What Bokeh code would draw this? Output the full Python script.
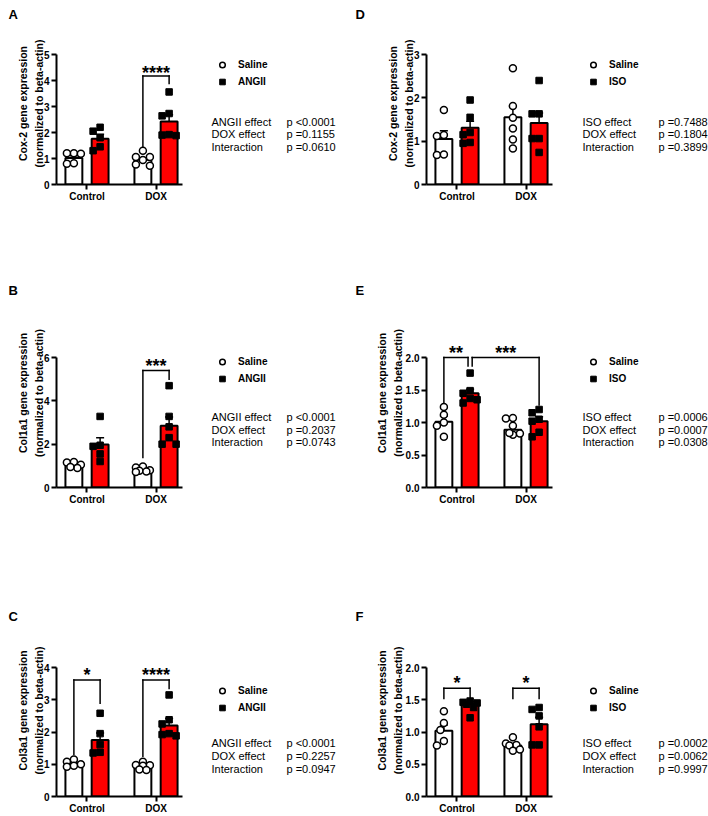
from bokeh.plotting import figure
from bokeh.models import (Range1d, FixedTicker, ColumnDataSource, Whisker, TeeHead,
                          Label, Legend, LegendItem, Arrow)
from bokeh.layouts import column, row
from bokeh.embed import file_html
from bokeh.resources import INLINE

# ---------------- data ----------------
groups = ["Control", "DOX"]
saline_name = "Saline"
stat_names_angii = ["ANGII effect", "DOX effect", "Interaction"]
stat_names_iso = ["ISO effect", "DOX effect", "Interaction"]

# Panel A: Cox-2, ANGII
a_ylabel = "Cox-2 gene expression\n(normalized to beta-actin)"
a_treat = "ANGII"
a_yticks = [0, 1, 2, 3, 4, 5]
a_yticklabels = ["0", "1", "2", "3", "4", "5"]
a_sal_ctrl = [1.20, 1.18, 1.20, 0.82, 0.80]
a_sal_dox = [1.30, 1.06, 1.06, 0.94, 0.72, 0.77]
a_trt_ctrl = [2.20, 2.05, 1.80, 1.30, 1.45]
a_trt_dox = [3.56, 2.73, 2.64, 1.92, 1.90, 1.88]
a_sal_mean = [1.02, 0.95]
a_sal_sem = [0.09, 0.08]
a_trt_mean = [1.76, 2.42]
a_trt_sem = [0.17, 0.26]
a_pvals = ["p <0.0001", "p =0.1155", "p =0.0610"]
a_brackets = [(1, 0, 1, 1, 4.17, 1.45, 3.88, "****", 4.46, 0, 0)]

# Panel B: Col1a1, ANGII
b_ylabel = "Col1a1 gene expression\n(normalized to beta-actin)"
b_treat = "ANGII"
b_yticks = [0, 2, 4, 6]
b_yticklabels = ["0", "2", "4", "6"]
b_sal_ctrl = [1.15, 1.18, 1.05, 0.90, 0.95]
b_sal_dox = [0.97, 0.92, 0.80, 0.77, 0.74, 0.72]
b_trt_ctrl = [3.28, 1.95, 1.90, 1.55, 1.20]
b_trt_dox = [4.70, 3.28, 2.80, 2.30, 2.00, 2.00]
b_sal_mean = [1.05, 0.82]
b_sal_sem = [0.05, 0.04]
b_trt_mean = [1.98, 2.85]
b_trt_sem = [0.32, 0.40]
b_pvals = ["p <0.0001", "p =0.2037", "p =0.0743"]
b_brackets = [(1, 0, 1, 1, 5.4, 1.38, 5.0, "***", 5.8, 0, 0)]

# Panel C: Col3a1, ANGII
c_ylabel = "Col3a1 gene expression\n(normalized to beta-actin)"
c_treat = "ANGII"
c_yticks = [0, 1, 2, 3, 4]
c_yticklabels = ["0", "1", "2", "3", "4"]
c_sal_ctrl = [1.15, 1.08, 1.00, 0.95, 0.92]
c_sal_dox = [1.08, 0.97, 0.98, 0.95, 0.84, 0.82]
c_trt_ctrl = [2.58, 1.95, 1.61, 1.35, 1.37]
c_trt_dox = [3.15, 2.38, 2.25, 1.95, 1.92, 1.88]
c_sal_mean = [1.02, 0.94]
c_sal_sem = [0.04, 0.04]
c_trt_mean = [1.75, 2.20]
c_trt_sem = [0.22, 0.22]
c_pvals = ["p <0.0001", "p =0.2257", "p =0.0947"]
c_brackets = [(0, 0, 0, 1, 3.61, 1.30, 2.89, "*", 3.89, 0, 0),
              (1, 0, 1, 1, 3.61, 1.25, 3.35, "****", 3.89, 0, 0)]

# Panel D: Cox-2, ISO
d_ylabel = "Cox-2 gene expression\n(normalized to beta-actin)"
d_treat = "ISO"
d_yticks = [0, 1, 2, 3]
d_yticklabels = ["0", "1", "2", "3"]
d_sal_ctrl = [1.72, 1.12, 1.14, 0.68, 0.69]
d_sal_dox = [2.68, 1.81, 1.54, 1.29, 1.04, 0.83]
d_trt_ctrl = [1.95, 1.55, 1.20, 1.15, 0.95, 0.97]
d_trt_dox = [2.40, 1.63, 1.63, 1.06, 1.06, 0.74]
d_sal_mean = [1.05, 1.55]
d_sal_sem = [0.19, 0.26]
d_trt_mean = [1.31, 1.42]
d_trt_sem = [0.15, 0.23]
d_pvals = ["p =0.7488", "p =0.1804", "p =0.3899"]
d_brackets = []

# Panel E: Col1a1, ISO
e_ylabel = "Col1a1 gene expression\n(normalized to beta-actin)"
e_treat = "ISO"
e_yticks = [0, 0.5, 1, 1.5, 2]
e_yticklabels = ["0.0", "0.5", "1.0", "1.5", "2.0"]
e_sal_ctrl = [1.24, 1.12, 1.00, 0.95, 0.78]
e_sal_dox = [1.06, 1.07, 0.95, 0.83, 0.81, 0.84]
e_trt_ctrl = [1.76, 1.49, 1.45, 1.37, 1.30, 1.35]
e_trt_dox = [1.20, 1.15, 1.05, 1.02, 0.78, 0.85]
e_sal_mean = [1.01, 0.89]
e_sal_sem = [0.09, 0.05]
e_trt_mean = [1.45, 1.02]
e_trt_sem = [0.06, 0.07]
e_pvals = ["p =0.0006", "p =0.0007", "p =0.0308"]
e_brackets = [(0, 0, 0, 1, 2.0, 1.31, 1.87, "**", 2.13, 0, -0.03),
              (0, 1, 1, 1, 2.0, 1.87, 1.27, "***", 2.13, 0.03, 0)]

# Panel F: Col3a1, ISO
f_ylabel = "Col3a1 gene expression\n(normalized to beta-actin)"
f_treat = "ISO"
f_yticks = [0, 0.5, 1, 1.5, 2]
f_yticklabels = ["0.0", "0.5", "1.0", "1.5", "2.0"]
f_sal_ctrl = [1.32, 1.14, 1.03, 0.79, 0.86]
f_sal_dox = [0.92, 0.82, 0.80, 0.79, 0.71, 0.73]
f_trt_ctrl = [1.48, 1.46, 1.45, 1.43, 1.38, 1.22]
f_trt_dox = [1.38, 1.35, 1.25, 1.08, 0.80, 0.80]
f_sal_mean = [1.02, 0.79]
f_sal_sem = [0.09, 0.03]
f_trt_mean = [1.43, 1.12]
f_trt_sem = [0.04, 0.11]
f_pvals = ["p =0.0002", "p =0.0062", "p =0.9997"]
f_brackets = [(0, 0, 0, 1, 1.68, 1.52, 1.52, "*", 1.82, 0, 0),
              (1, 0, 1, 1, 1.68, 1.52, 1.52, "*", 1.82, 0, 0)]

# ---------------- layout / style ----------------
FONT = "Liberation Sans"
RED = "#FF0000"
X0, X1 = 0.558, 2.384
OFF = 0.19
BW = 0.245
STAR_FS = 18

COL_OX = [0, 354]
COL_W = 354
COL_FL = [56, 426]
COL_FR = [182, 552]
ROW_OY = [0, 248, 528]
ROW_H = [248, 280, 288]
ROW_FTX = [22, 298, 624]
ROW_FT = [54, 357, 667]
ROW_FB = [184, 487, 796]

LETTER_X = [8, 355]
LEG_MARK_X = [222, 593]
STAT_NAME_X = [211, 582]
STAT_P_X = [286, 658]
LEG_Y = [64, 361, 690]
STAT_Y = [(121, 133.5, 146), (416, 429, 441), (742, 755, 768)]


def swarm(vals, kx, ky, d=7.5, step=3.5, maxoff=9):
    cands = [0.0]
    k = 1
    while k * step <= maxoff:
        cands += [-k * step, k * step]
        k += 1
    order = sorted(range(len(vals)), key=lambda i: -vals[i])
    placed = []
    res = [0.0] * len(vals)
    for i in order:
        yv = vals[i] * ky
        best, bestd = 0.0, -1
        for c in cands:
            md = min([((c - px) ** 2 + (yv - py) ** 2) ** 0.5 for px, py in placed], default=1e9)
            if md >= d:
                best = c
                break
            if md > bestd:
                bestd, best = md, c
        placed.append((best, yv))
        res[i] = best / kx
    return res


def tick_key(t):
    return int(t) if float(t).is_integer() else t


def style_axis(ax):
    ax.axis_line_width = 2
    ax.axis_line_color = "black"
    ax.major_tick_line_width = 2
    ax.major_tick_line_color = "black"
    ax.major_tick_out = 5
    ax.major_tick_in = 0
    ax.minor_tick_line_color = None
    ax.major_label_text_font = FONT
    ax.major_label_text_font_style = "bold"
    ax.major_label_text_font_size = "10px"
    ax.major_label_text_color = "black"


def make_panel(r, c, letter, ylabel, treat, yticks, yticklabels, sal_pts, trt_pts,
               sal_mean, sal_sem, trt_mean, trt_sem, stat_names, pvals, brackets, ylab_standoff):
    ox, oy = COL_OX[c], ROW_OY[r]
    W, H = COL_W, ROW_H[r]
    FL, FR = COL_FL[c], COL_FR[c]
    FT, FB, FTX = ROW_FT[r], ROW_FB[r], ROW_FTX[r]
    FRX = ox + W
    ymax = yticks[-1]
    kx = (FR - FL) / (X1 - X0)
    ky = (FB - FT) / ymax
    x_end = X1 + (FRX - FR) / kx
    y_end = ymax + (FT - FTX) / ky

    def dx(px):
        return X0 + (px - FL) / kx

    def dy(py):
        return (FB - py) / ky

    p = figure(width=W, height=H, x_range=Range1d(X0, x_end), y_range=Range1d(0, y_end),
               output_backend="svg", toolbar_location=None, title=letter,
               min_border_left=FL - ox, min_border_right=0,
               min_border_top=FTX - oy, min_border_bottom=oy + H - FB)
    p.outline_line_color = None
    p.xgrid.visible = False
    p.ygrid.visible = False
    p.title.align = "left"
    p.title.vertical_align = "bottom"
    p.title.offset = LETTER_X[c] - FL
    p.title.standoff = 2
    p.title.text_font = FONT
    p.title.text_font_style = "bold"
    p.title.text_font_size = "13px"
    p.title.text_color = "black"

    xs_sal = [g + 1 - OFF for g in range(len(groups))]
    xs_trt = [g + 1 + OFF for g in range(len(groups))]
    p.vbar(x=xs_sal, top=sal_mean, bottom=0, width=BW, fill_color="white",
           line_color="black", line_width=2)
    p.vbar(x=xs_trt, top=trt_mean, bottom=0, width=BW, fill_color=RED,
           line_color="black", line_width=2)

    src = ColumnDataSource(dict(
        base=xs_sal + xs_trt,
        upper=[m + s for m, s in zip(sal_mean + trt_mean, sal_sem + trt_sem)],
        lower=[m - s for m, s in zip(sal_mean + trt_mean, sal_sem + trt_sem)]))
    p.add_layout(Whisker(base="base", upper="upper", lower="lower", source=src,
                         line_color="black", line_width=1.5,
                         upper_head=TeeHead(size=8, line_width=1.5, line_color="black"),
                         lower_head=TeeHead(size=8, line_width=1.5, line_color="black")))

    sx, sy, tx, ty = [], [], [], []
    for g, pts in enumerate(sal_pts):
        offs = swarm(pts, kx, ky)
        sx += [g + 1 - OFF + o for o in offs]
        sy += list(pts)
    for g, pts in enumerate(trt_pts):
        offs = swarm(pts, kx, ky)
        tx += [g + 1 + OFF + o for o in offs]
        ty += list(pts)
    r_sal = p.scatter(x=sx, y=sy, marker="circle", size=7, fill_color="white",
                      line_color="black", line_width=1.5)
    r_trt = p.scatter(x=tx, y=ty, marker="square", size=6.5, fill_color="black",
                      line_color="black", line_width=1)

    style_axis(p.xaxis[0])
    style_axis(p.yaxis[0])
    p.xaxis.bounds = (X0, X1)
    p.yaxis.bounds = (0, ymax)
    p.xaxis.ticker = FixedTicker(ticks=[1, 2])
    p.xaxis.major_label_overrides = {i + 1: gname for i, gname in enumerate(groups)}
    p.xaxis.major_label_standoff = 1
    p.yaxis.ticker = FixedTicker(ticks=yticks)
    p.yaxis.major_label_overrides = {tick_key(t): lab for t, lab in zip(yticks, yticklabels)}
    p.yaxis.major_label_standoff = 2
    p.yaxis.axis_label = ylabel
    p.yaxis.axis_label_text_font = FONT
    p.yaxis.axis_label_text_font_style = "bold"
    p.yaxis.axis_label_text_font_size = "10.5px"
    p.yaxis.axis_label_text_line_height = 1.3
    p.yaxis.axis_label_text_color = "black"
    p.yaxis.axis_label_standoff = ylab_standoff

    # brackets and stars
    for (g1, s1, g2, s2, ytop, yb1, yb2, stars, stary, d1, d2) in brackets:
        x1 = g1 + 1 + (OFF if s1 else -OFF) + d1
        x2 = g2 + 1 + (OFF if s2 else -OFF) + d2
        for (xa, ya, xb, yb) in [(x1, yb1, x1, ytop), (x1, ytop, x2, ytop), (x2, ytop, x2, yb2)]:
            p.add_layout(Arrow(x_start=xa, y_start=ya, x_end=xb, y_end=yb, end=None,
                               line_color="black", line_width=1.5, line_cap="square"))
        p.add_layout(Label(x=(x1 + x2) / 2, y=stary - 0.23 * STAR_FS / ky, text=stars,
                           text_align="center", text_baseline="middle",
                           text_font=FONT, text_font_style="bold",
                           text_font_size=f"{STAR_FS}px", text_color="black"))

    # legend
    leg_top = LEG_Y[r] - 8.5
    leg = Legend(items=[LegendItem(label=saline_name, renderers=[r_sal]),
                        LegendItem(label=treat, renderers=[r_trt])],
                 location=(LEG_MARK_X[c] - 7 - FL, FB - (leg_top + 34)),
                 orientation="vertical", glyph_width=14, glyph_height=17,
                 label_height=17, label_width=20, spacing=0, padding=0, margin=0,
                 label_standoff=9, border_line_color=None, background_fill_alpha=0,
                 label_text_font=FONT, label_text_font_style="bold",
                 label_text_font_size="10px", label_text_color="black")
    p.add_layout(leg)

    # statistics text
    for name, pv, yy in zip(stat_names, pvals, STAT_Y[r]):
        p.add_layout(Label(x=dx(STAT_NAME_X[c]), y=dy(yy), text=name, text_align="left",
                           text_baseline="middle", text_font=FONT, text_font_size="11px",
                           text_color="black"))
        p.add_layout(Label(x=dx(STAT_P_X[c]), y=dy(yy), text=pv, text_align="left",
                           text_baseline="middle", text_font=FONT, text_font_size="11px",
                           text_color="black"))
    return p


pA = make_panel(0, 0, "A", a_ylabel, a_treat, a_yticks, a_yticklabels, [a_sal_ctrl, a_sal_dox],
                [a_trt_ctrl, a_trt_dox], a_sal_mean, a_sal_sem, a_trt_mean, a_trt_sem,
                stat_names_angii, a_pvals, a_brackets, -4)
pB = make_panel(1, 0, "B", b_ylabel, b_treat, b_yticks, b_yticklabels, [b_sal_ctrl, b_sal_dox],
                [b_trt_ctrl, b_trt_dox], b_sal_mean, b_sal_sem, b_trt_mean, b_trt_sem,
                stat_names_angii, b_pvals, b_brackets, -4)
pC = make_panel(2, 0, "C", c_ylabel, c_treat, c_yticks, c_yticklabels, [c_sal_ctrl, c_sal_dox],
                [c_trt_ctrl, c_trt_dox], c_sal_mean, c_sal_sem, c_trt_mean, c_trt_sem,
                stat_names_angii, c_pvals, c_brackets, -4)
pD = make_panel(0, 1, "D", d_ylabel, d_treat, d_yticks, d_yticklabels, [d_sal_ctrl, d_sal_dox],
                [d_trt_ctrl, d_trt_dox], d_sal_mean, d_sal_sem, d_trt_mean, d_trt_sem,
                stat_names_iso, d_pvals, d_brackets, -4)
pE = make_panel(1, 1, "E", e_ylabel, e_treat, e_yticks, e_yticklabels, [e_sal_ctrl, e_sal_dox],
                [e_trt_ctrl, e_trt_dox], e_sal_mean, e_sal_sem, e_trt_mean, e_trt_sem,
                stat_names_iso, e_pvals, e_brackets, -1)
pF = make_panel(2, 1, "F", f_ylabel, f_treat, f_yticks, f_yticklabels, [f_sal_ctrl, f_sal_dox],
                [f_trt_ctrl, f_trt_dox], f_sal_mean, f_sal_sem, f_trt_mean, f_trt_sem,
                stat_names_iso, f_pvals, f_brackets, -1)

layout = column(row(pA, pD), row(pB, pE), row(pC, pF))
open("out.html", "w").write(file_html(layout, INLINE))
